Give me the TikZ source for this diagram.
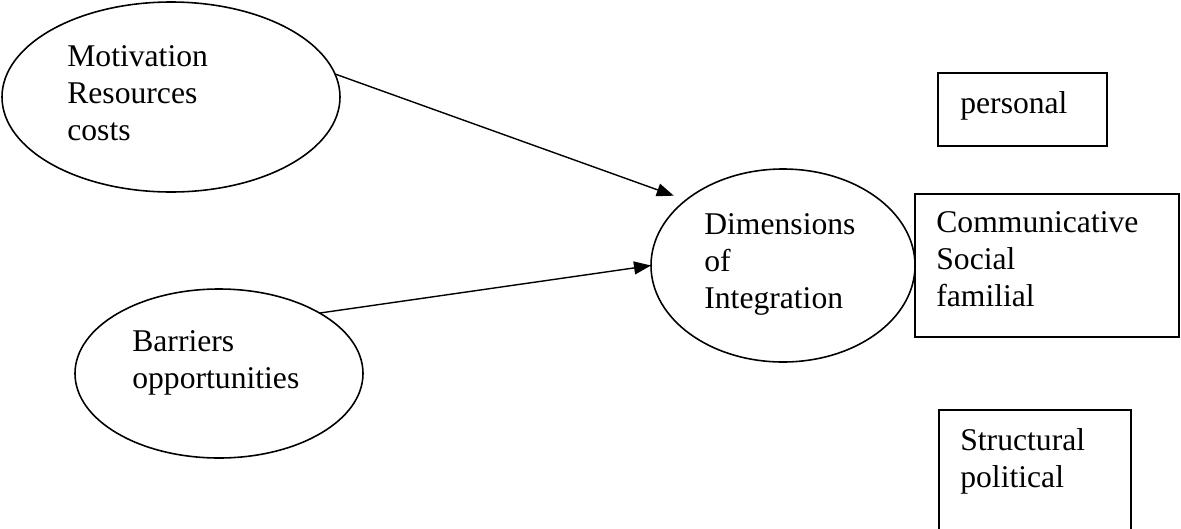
\documentclass[tikz,border=0pt]{standalone}
\usepackage{fontspec}
\setmainfont{Liberation Serif}
\usetikzlibrary{shapes.geometric,arrows.meta}
\tikzset{
    oval/.style={draw=black, ellipse, line width=0.9pt, outer sep=0pt, inner sep=0pt},
    box/.style={draw=black, rectangle, line width=1.1pt, outer sep=0pt, inner sep=0pt},
    words/.style={anchor=north west, inner sep=0pt, align=left, font={\fontsize{18}{21}\selectfont}},
    link/.style={line width=0.8pt, -{Triangle[length=3.4mm,width=2.6mm]}}
}
\begin{document}
\begin{tikzpicture}
        \clip (0,0) rectangle (23.62,-10.56);
        % ovals
        \node[oval, minimum width=6.76cm, minimum height=3.80cm] (motiv) at (3.42,-1.94) {};
        \node[oval, minimum width=5.76cm, minimum height=3.38cm] (barr) at (4.38,-7.47) {};
        \node[oval, minimum width=5.28cm, minimum height=3.86cm] (dims) at (15.66,-5.31) {};
        \node[words] (motivtext) at (1.34,-0.91) {Motivation\\Resources\\costs};
        \node[words] (barrtext) at (2.64,-6.61) {Barriers\\opportunities};
        \node[words] (dimstext) at (14.08,-4.27) {Dimensions\\of\\Integration};
        % boxes
        \node[box, minimum width=3.38cm, minimum height=1.46cm] (pers) at (20.45,-2.19) {};
        \node[box, minimum width=5.28cm, minimum height=2.86cm] (comm) at (20.94,-5.31) {};
        \node[box, minimum width=3.84cm, minimum height=3.00cm] (struct) at (20.70,-9.70) {};
        \node[words] (perstext) at (19.20,-1.83) {personal};
        \node[words] (commtext) at (18.72,-4.23) {Communicative\\Social\\familial};
        \node[words] (structtext) at (19.20,-8.57) {Structural\\political};
        % arrows
        \draw[link, shorten >=0.26cm] (motiv.8) -- (dims.146);
        \draw[link] (barr.31) -- (dims.west);
    \end{tikzpicture}
\end{document}
